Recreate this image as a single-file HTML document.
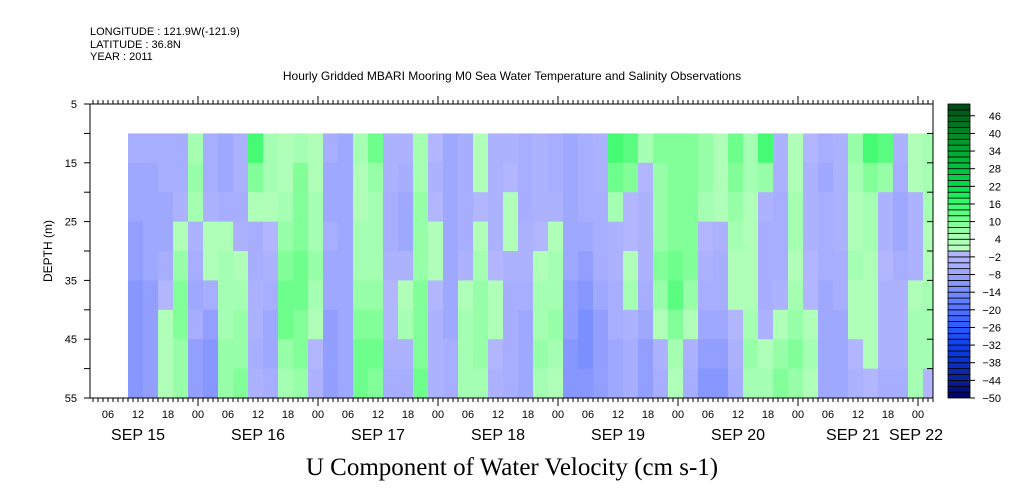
<!DOCTYPE html>
<html><head><meta charset="utf-8">
<style>
html,body{margin:0;padding:0;background:#fff;}
svg{display:block;font-family:"Liberation Sans",sans-serif;}
</style></head>
<body>
<svg id="chart" width="1009" height="504" viewBox="0 0 1009 504">
<rect x="0" y="0" width="1009" height="504" fill="#fff"/>
<text x="90" y="35" font-size="11">LONGITUDE : 121.9W(-121.9)</text>
<text x="90" y="48" font-size="11">LATITUDE : 36.8N</text>
<text x="90" y="60" font-size="11">YEAR : 2011</text>
<text x="512" y="80" font-size="12" text-anchor="middle">Hourly Gridded MBARI Mooring M0 Sea Water Temperature and Salinity Observations</text>
<text transform="translate(52,251) rotate(-90)" font-size="12" text-anchor="middle">DEPTH (m)</text>
<text x="512" y="475" font-size="25" text-anchor="middle" font-family="Liberation Serif, serif">U Component of Water Velocity (cm s-1)</text>
<g id="cells"></g>
<g id="axes"></g>
<g id="cbar"></g>
</svg>
<script>
// hours since Sep 15 00:00 (column start), 3-hour columns
const hours = [10,13,16,19,22,25,28,31,34,37,40,43,46,49,52,55,58,61,64,67,70,73,76,79,82,85,88,91,94,97,100,103,106,109,112,115,118,121,124,127,130,133,136,139,142,145,148,151,154,157,160,163,166,169];
// depth rows (top of each 5 m row)
const depths = [10,15,20,25,30,35,40,45,50];
// U values (cm/s), one array per column, top to bottom
const uValues = [
[-6,-8,-8,-10,-10,-12,-12,-12,-12],
[-6,-8,-8,-8,-8,-10,-10,-10,-10],
[-6,-6,-8,-8,-6,-2,2,2,2],
[-6,-6,-4,2,6,8,8,6,6],
[4,6,4,-4,-6,-8,-6,-10,-10],
[-6,-6,-4,2,2,-6,-10,-12,-12],
[-8,-8,-6,2,4,4,4,6,6],
[-4,-4,-6,-4,2,4,6,6,8],
[14,8,2,-6,-6,-4,-4,-6,-4],
[4,4,2,-2,-4,-6,-8,-8,-6],
[2,2,4,6,8,10,10,6,4],
[4,8,8,8,10,10,8,8,6],
[2,2,4,4,6,4,2,-2,-4],
[-6,-8,-8,-6,-8,-8,-10,-10,-10],
[-8,-8,-8,-8,-8,-8,-8,-8,-8],
[4,2,2,4,4,6,8,10,10],
[10,6,4,4,4,6,8,10,8],
[-4,-4,-6,-6,-4,-2,-2,-4,-6],
[-4,-6,-8,-8,-4,2,4,-4,-6],
[4,4,6,6,6,8,8,8,10],
[-2,-4,-2,2,2,-2,-4,-4,-4],
[-8,-8,-8,-8,-8,-8,-8,-6,-6],
[-6,-6,-6,-6,-4,2,4,4,4],
[2,2,-2,2,4,6,6,6,4],
[-4,-4,-4,-4,-2,2,2,-2,-4],
[-4,-2,2,2,-4,-6,-6,-6,-6],
[-6,-6,-6,-4,-4,-6,-8,-8,-8],
[-4,-4,-4,-2,2,4,4,6,4],
[-6,-6,-4,2,4,4,6,4,2],
[-8,-8,-8,-8,-8,-10,-10,-12,-12],
[-6,-6,-6,-8,-10,-12,-14,-14,-12],
[-4,-4,-6,-6,-6,-8,-10,-10,-10],
[14,10,4,-4,-4,-6,-6,-8,-8],
[12,8,-2,-2,2,4,-4,-6,-6],
[4,-2,-4,-4,-4,-6,-8,-10,-10],
[8,6,6,6,8,6,2,-4,-6],
[8,8,8,8,10,12,8,4,2],
[8,8,8,8,8,6,2,-4,-6],
[6,6,4,-2,-4,-6,-8,-10,-12],
[2,2,2,-4,-6,-6,-8,-10,-12],
[10,8,6,4,2,2,-2,-4,-6],
[4,4,2,2,2,2,4,6,4],
[14,6,-4,-6,-6,-6,-4,2,4],
[-4,-4,-6,-6,-6,-4,2,6,8],
[2,2,4,4,2,4,6,8,6],
[-2,-4,-4,-4,-2,-2,2,4,2],
[-6,-8,-6,-6,-6,-8,-8,-8,-8],
[-4,-4,-4,-4,-6,-6,-8,-8,-8],
[6,4,2,2,4,2,2,-2,-4],
[14,8,4,4,2,2,2,2,-2],
[12,6,-4,-4,-2,-4,-4,-4,-6],
[-4,-6,-8,-8,-6,-4,-4,-4,-6],
[2,2,-4,-4,-4,2,4,4,4],
[4,4,4,2,2,4,4,4,-2]
];
const yTicks = [5,15,25,35,45,55];
const cbarLabels = [46,40,34,28,22,16,10,4,-2,-8,-14,-20,-26,-32,-38,-44,-50];
const dayNames = ["SEP 15","SEP 16","SEP 17","SEP 18","SEP 19","SEP 20","SEP 21","SEP 22"];

const NS="http://www.w3.org/2000/svg";
const X0=90,X1=933,Y0=104,Y1=398;
const xOf=h=>78+5*h;
const yOf=d=>Y0+(d-5)*(Y1-Y0)/50;
const stops=[[-50,[0,0,96]],[-44,[8,32,150]],[-38,[8,48,200]],[-32,[16,64,235]],[-26,[40,90,255]],[-22,[70,105,255]],[-16,[105,130,255]],[-10,[140,155,255]],[-6,[165,172,255]],[0,[180,184,255]],[0.01,[190,255,195]],[6,[160,255,175]],[10,[120,255,145]],[16,[60,250,110]],[22,[0,220,70]],[34,[0,170,50]],[46,[0,100,30]],[50,[0,70,20]]];
function col(v){
  v=Math.max(-50,Math.min(50,v));
  const q=Math.floor(v/2)*2+1; // level center
  for(let i=0;i<stops.length-1;i++){
    const a=stops[i],b=stops[i+1];
    if(q>=a[0]&&q<=b[0]){const t=(q-a[0])/(b[0]-a[0]);
      return "rgb("+a[1].map((c,k)=>Math.round(c+(b[1][k]-c)*t)).join(",")+")";}
  }
  return "rgb(0,70,20)";
}
function mk(tag,attrs,parent){const e=document.createElementNS(NS,tag);for(const k in attrs)e.setAttribute(k,attrs[k]);parent.appendChild(e);return e;}

const cells=document.getElementById('cells');
hours.forEach((h,i)=>{
  depths.forEach((d,j)=>{
    const x=xOf(h), w=Math.min(xOf(h+3),X1)-x;
    const r=mk('rect',{x:x,y:yOf(d),width:w+0.5,height:yOf(d+5)-yOf(d)+0.5,fill:col(uValues[i][j])},cells);
    
    
  });
});

const ax=document.getElementById('axes');
mk('rect',{x:X0,y:Y0,width:X1-X0,height:Y1-Y0,fill:'none',stroke:'#000','stroke-width':1},ax);
for(let h=3;h<=171;h++){
  const x=xOf(h); if(x<X0||x>X1)continue;
  const major=h%24===0;
  mk('line',{x1:x,x2:x,y1:Y0,y2:Y0-(major?8:4),stroke:'#000'},ax);
  mk('line',{x1:x,x2:x,y1:Y1,y2:Y1+(major?8:4),stroke:'#000'},ax);
  if(h%6===0){
    const t=mk('text',{x:x,y:418,'font-size':11,'text-anchor':'middle'},ax);
    t.textContent=String(h%24).padStart(2,'0');
    
    
  }
}
dayNames.forEach((n,i)=>{
  let x=xOf(i*24+12); if(i===7)x=916; if(i===6)x=853;
  const t=mk('text',{x:x,y:440,'font-size':16,'text-anchor':'middle'},ax);
  t.textContent=n;
  
  
});
for(let d=5;d<=55;d+=5){
  const y=yOf(d);
  mk('line',{x1:X0,x2:X0-6,y1:y,y2:y,stroke:'#000'},ax);
  mk('line',{x1:X1,x2:X1-6,y1:y,y2:y,stroke:'#000'},ax);
}
yTicks.forEach(d=>{
  const t=mk('text',{x:77,y:yOf(d)+4,'font-size':11,'text-anchor':'end'},ax);
  t.textContent=d;
  
  
});

const cb=document.getElementById('cbar');
for(let v=-50;v<50;v+=2){
  const y1=Y0+(50-(v+2))*(Y1-Y0)/100, y2=Y0+(50-v)*(Y1-Y0)/100;
  const r=mk('rect',{x:948,y:y1,width:22,height:y2-y1,fill:col(v+1),stroke:'#000','stroke-width':0.8},cb);
  
  
}
cbarLabels.forEach(v=>{
  const y=Y0+(50-v)*(Y1-Y0)/100;
  mk('line',{x1:970,x2:975,y1:y,y2:y,stroke:'#000'},cb);
  const t=mk('text',{x:1001,y:y+4,'font-size':11,'text-anchor':'end'},cb);
  t.textContent=v<0?"\u2212"+(-v):v;
  
  
});
</script>
</body></html>
